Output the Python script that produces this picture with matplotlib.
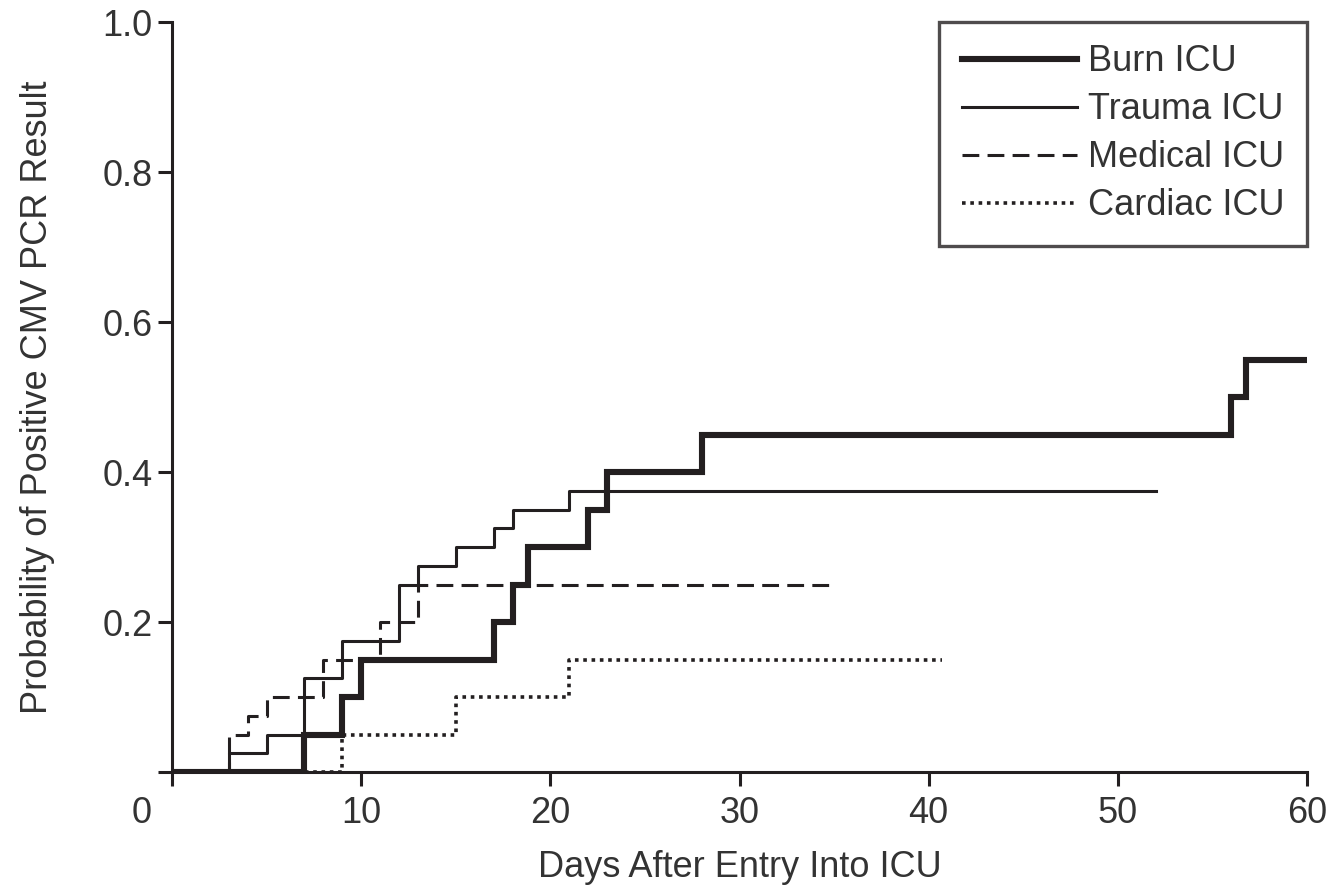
import matplotlib
matplotlib.use("Agg")
import matplotlib.pyplot as plt
import matplotlib.transforms as mtransforms

# cumulative probability curves (step functions)
burn_days = [0, 7, 9, 10, 17, 18, 18.8, 22, 23, 28, 56, 56.8, 60]
burn_prob = [0, 0.05, 0.10, 0.15, 0.20, 0.25, 0.30, 0.35, 0.40, 0.45, 0.50, 0.55, 0.55]

trauma_days = [0, 3, 5, 7, 9, 12, 13, 15, 17, 18, 21, 52]
trauma_prob = [0, 0.025, 0.05, 0.125, 0.175, 0.25, 0.275, 0.30, 0.325, 0.35, 0.375, 0.375]

medical_days = [0, 3, 4, 5, 8, 11, 13, 35]
medical_prob = [0, 0.05, 0.075, 0.10, 0.15, 0.20, 0.25, 0.25]

cardiac_days = [0, 9, 15, 21, 40.7]
cardiac_prob = [0, 0.05, 0.10, 0.15, 0.15]

x_ticks = [0, 10, 20, 30, 40, 50, 60]
y_ticks = [0, 0.2, 0.4, 0.6, 0.8, 1.0]
y_labels = ["", "0.2", "0.4", "0.6", "0.8", "1.0"]

ink = "#231f20"
txt = "#333333"
plt.rcParams["font.family"] = ["Liberation Sans", "DejaVu Sans"]

fig = plt.figure(figsize=(13.34, 8.86), dpi=100)
ax = fig.add_axes([172/1334, 1 - 772/886, (1307-172)/1334, (772-22)/886])

ax.step(cardiac_days, cardiac_prob, where="post", color=ink, lw=2.6,
        linestyle=(0, (1, 1.3)), label="Cardiac ICU")
ax.step(medical_days, medical_prob, where="post", color=ink, lw=2.2,
        linestyle=(0, (5.5, 2.7)), label="Medical ICU")
ax.step(trauma_days, trauma_prob, where="post", color=ink, lw=2.2,
        label="Trauma ICU")
ax.step(burn_days, burn_prob, where="post", color=ink, lw=4.4,
        label="Burn ICU", solid_joinstyle="miter")

ax.set_xlim(0, 60)
ax.set_ylim(0, 1.0)
ax.set_xticks(x_ticks)
ax.set_yticks(y_ticks)
ax.set_yticklabels(y_labels)

for s in ["top", "right"]:
    ax.spines[s].set_visible(False)
for s in ["left", "bottom"]:
    ax.spines[s].set_linewidth(2.2)
    ax.spines[s].set_color(ink)

ax.tick_params(axis="both", direction="out", length=10, width=2.2, color=ink,
               labelsize=26, labelcolor=txt)
ax.tick_params(axis="x", pad=7)
ax.tick_params(axis="y", pad=4)

# the "0" sits at the corner, shifted left of the origin tick
lbl0 = ax.get_xticklabels()[0]
lbl0.set_transform(lbl0.get_transform() + mtransforms.ScaledTranslation(-0.30, 0, fig.dpi_scale_trans))

ax.set_xlabel("Days After Entry Into ICU", fontsize=26, color=txt, labelpad=14)
ax.set_ylabel("Probability of Positive CMV PCR Result", fontsize=26, color=txt, labelpad=34)

h, l = ax.get_legend_handles_labels()
order = [3, 2, 1, 0]
leg = ax.legend([h[i] for i in order], [l[i] for i in order], loc="upper right",
                borderaxespad=0, fontsize=26, frameon=True, fancybox=False,
                handlelength=3.2, handletextpad=0.3, labelspacing=0.36,
                borderpad=0.62, labelcolor=txt)
leg.get_frame().set_edgecolor(ink)
leg.get_frame().set_linewidth(2.4)

fig.savefig("out.png", dpi=100)
